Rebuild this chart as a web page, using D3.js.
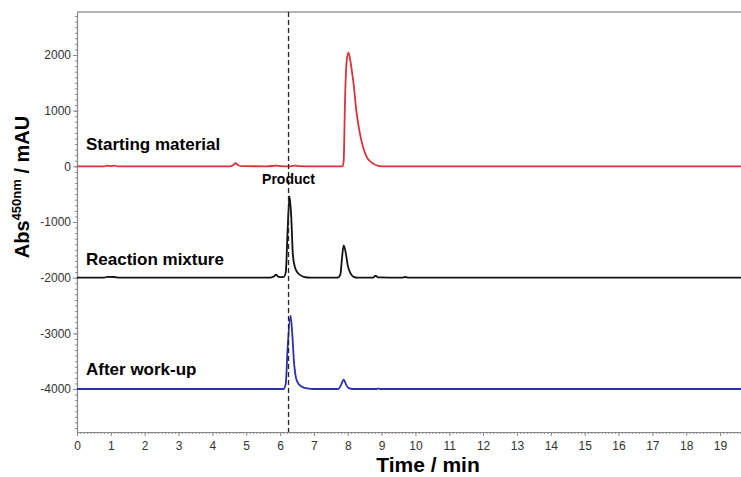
<!DOCTYPE html>
<html>
<head>
<meta charset="utf-8">
<script src="https://cdn.jsdelivr.net/npm/d3@7"></script>
<style>
  body { margin: 0; background: #fff; }
  svg { font-family: Arial, "Liberation Sans", sans-serif; }
  .tick text { fill: #333; font-size: 12px; }
</style>
</head>
<body>
<div id="wrapper"></div>
<script>
// Chromatogram traces, [time (min), absorbance (mAU)]
const startingMaterial = [
  [0, 0], [0.8, 0], [0.9, 12], [1.0, 4], [1.1, 12], [1.2, 0], [2.5, 0], [4.5, 0],
  [4.6, 15], [4.69, 55], [4.78, 15], [4.9, 3], [5.6, 0], [5.9, 12], [6.0, 3],
  [6.3, 0], [6.45, 14], [6.55, 3], [7.0, 0], [7.85, 0], [7.88, 100], [7.92, 1200],
  [7.97, 1900], [8.02, 2040], [8.07, 1920], [8.12, 1720], [8.17, 1500], [8.25, 1020],
  [8.35, 620], [8.45, 350], [8.55, 180], [8.7, 70], [8.9, 10], [9.1, 0], [19.7, 0]
];
const reactionMixture = [
  [0, -2000], [0.8, -2000], [0.9, -1985], [1.1, -1988], [1.25, -2000], [3.5, -2000],
  [5.7, -2000], [5.82, -1975], [5.88, -1945], [5.95, -1985], [6.1, -1990], [6.17, -1900],
  [6.22, -1200], [6.28, -540], [6.33, -900], [6.38, -1600], [6.46, -1850], [6.55, -1930],
  [6.7, -1985], [6.9, -2000], [7.7, -2000], [7.78, -1950], [7.83, -1650], [7.88, -1420],
  [7.94, -1550], [8.0, -1780], [8.08, -1920], [8.17, -1985], [8.3, -2000], [8.75, -2000],
  [8.82, -1965], [8.9, -1995], [9.6, -2000], [9.7, -1988], [9.8, -2000], [19.7, -2000]
];
const afterWorkup = [
  [0, -4000], [6.1, -4000], [6.17, -3900], [6.22, -3300], [6.31, -2680], [6.36, -3000],
  [6.41, -3500], [6.47, -3800], [6.52, -3880], [6.62, -3950], [6.8, -3990], [7.0, -4000],
  [7.72, -4000], [7.8, -3930], [7.88, -3830], [7.95, -3920], [8.03, -3985], [8.15, -4000],
  [8.85, -4000], [8.9, -3988], [8.95, -4000], [19.7, -4000]
];

const traceLabels = ["Starting material", "Reaction mixture", "After work-up"];
const traceColors = ["#d9343a", "#111111", "#2a30b0"];
const traceLabelValues = [300, -1780, -3750];
const productTime = 6.25;

const xTicks = d3.range(0, 20, 1);
const yTicks = [2000, 1000, 0, -1000, -2000, -3000, -4000];

const width = 741, height = 477;
const margin = {top: 12, right: 0, bottom: 45, left: 77};

const svg = d3.select("#wrapper").append("svg")
  .attr("width", width)
  .attr("height", height);

const x = d3.scaleLinear().domain([0, 19.62]).range([margin.left, width - margin.right]);
const y = d3.scaleLinear().domain([-4772, 2772]).range([height - margin.bottom, margin.top]);

// top frame line
svg.append("line")
  .attr("x1", margin.left).attr("x2", width)
  .attr("y1", margin.top).attr("y2", margin.top)
  .attr("stroke", "#999").attr("stroke-width", 1.5);

// minor ticks
const xMinor = d3.range(0, 19.65, 0.1);
svg.append("g")
  .attr("transform", `translate(0,${y.range()[0]})`)
  .call(d3.axisBottom(x).tickValues(xMinor).tickSize(2).tickFormat(""))
  .call(g => g.select(".domain").remove())
  .selectAll("line").attr("stroke", "#888");
const yMinor = d3.range(-4700, 2800, 100);
svg.append("g")
  .attr("transform", `translate(${margin.left},0)`)
  .call(d3.axisLeft(y).tickValues(yMinor).tickSize(2).tickFormat(""))
  .call(g => g.select(".domain").remove())
  .selectAll("line").attr("stroke", "#888");

// major axes
const xAxis = svg.append("g")
  .attr("transform", `translate(0,${y.range()[0]})`)
  .call(d3.axisBottom(x).tickValues(xTicks).tickSize(4).tickPadding(5).tickSizeOuter(0));
const yAxis = svg.append("g")
  .attr("transform", `translate(${margin.left},0)`)
  .call(d3.axisLeft(y).tickValues(yTicks).tickSize(4).tickPadding(2).tickSizeOuter(0)
    .tickFormat(d => String(d)));
[xAxis, yAxis].forEach(a => {
  a.select(".domain").attr("stroke", "#888").attr("stroke-width", 1.2);
  a.selectAll(".tick line").attr("stroke", "#888");
});

// traces
const line = d3.line().x(d => x(d[0])).y(d => y(d[1])).curve(d3.curveMonotoneX);
[startingMaterial, reactionMixture, afterWorkup].forEach((data, i) => {
  svg.append("path")
    .datum(data)
    .attr("fill", "none")
    .attr("stroke", traceColors[i])
    .attr("stroke-width", 1.8)
    .attr("stroke-linejoin", "round")
    .attr("d", line);
});

// product marker
svg.append("line")
  .attr("x1", x(productTime)).attr("x2", x(productTime))
  .attr("y1", margin.top).attr("y2", y.range()[0])
  .attr("stroke", "#222").attr("stroke-width", 1.3)
  .attr("stroke-dasharray", "5,3");
svg.append("text")
  .attr("x", x(productTime)).attr("y", y(-320))
  .attr("text-anchor", "middle")
  .style("font-size", "14px").style("font-weight", "bold")
  .text("Product");

// trace labels
traceLabels.forEach((t, i) => {
  svg.append("text")
    .attr("x", 86)
    .attr("y", y(traceLabelValues[i]))
    .style("font-size", "17px").style("font-weight", "bold")
    .text(t);
});

// axis titles
svg.append("text")
  .attr("x", 428).attr("y", 472)
  .attr("text-anchor", "middle")
  .style("font-size", "21px").style("font-weight", "bold")
  .text("Time / min");

const yTitle = svg.append("text")
  .attr("transform", "translate(29,187) rotate(-90)")
  .attr("text-anchor", "middle")
  .style("font-size", "20px").style("font-weight", "bold");
yTitle.append("tspan").text("Abs");
yTitle.append("tspan").attr("dy", -8).style("font-size", "13px").text("450nm");
yTitle.append("tspan").attr("dy", 8).text(" / mAU");
</script>
</body>
</html>
